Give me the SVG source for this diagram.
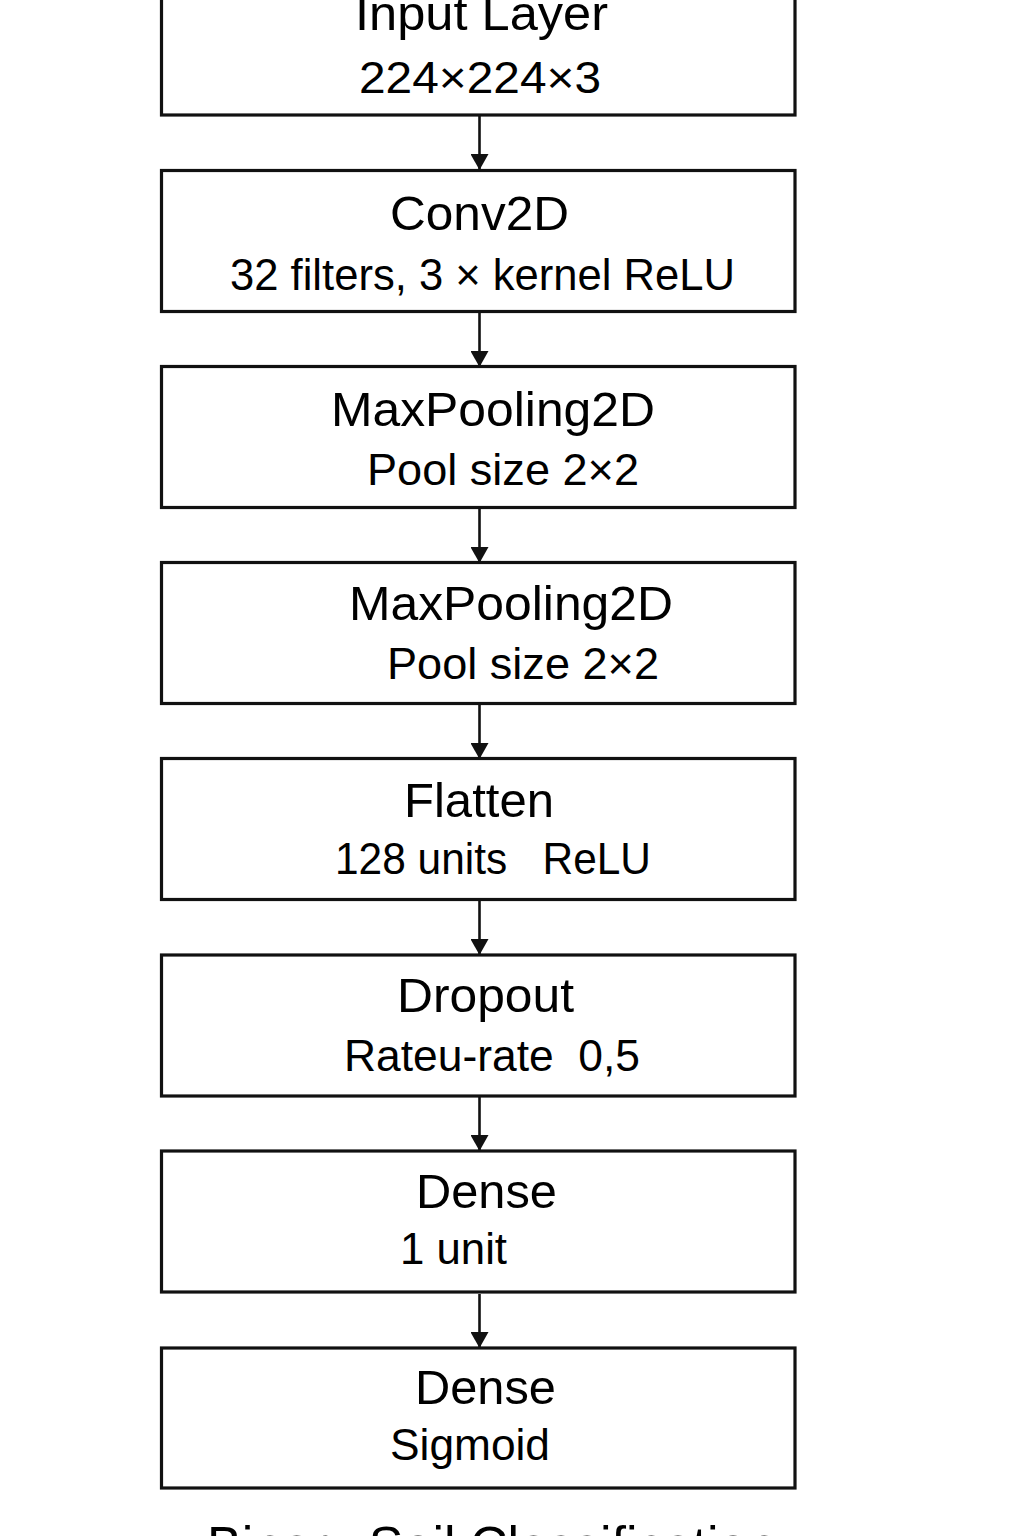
<svg xmlns="http://www.w3.org/2000/svg" width="1024" height="1536" viewBox="0 0 1024 1536">
  <style>
    .box { fill: #ffffff; stroke: #111111; stroke-width: 3.2; }
    .title { font-family: "Liberation Sans", Arial, sans-serif; font-size: 49px; fill: #000000; }
    .sub { font-family: "Liberation Sans", Arial, sans-serif; font-size: 44px; fill: #000000; white-space: pre; }
    .edge { stroke: #111111; stroke-width: 2.6; fill: none; marker-end: url(#arrow); }
    .caption { font-family: "Liberation Sans", Arial, sans-serif; font-size: 52px; fill: #000000; }
  </style>
  <defs>
    <marker id="arrow" markerWidth="16" markerHeight="18" refX="15" refY="9" orient="auto" markerUnits="userSpaceOnUse">
      <path d="M0,0 L16,9 L0,18 Z" fill="#111111"/>
    </marker>
  </defs>
  <rect x="0" y="0" width="1024" height="1536" fill="#ffffff"/>

  <g id="connectors">
    <line class="edge" x1="479.5" y1="116" x2="479.5" y2="169"/>
    <line class="edge" x1="479.5" y1="313" x2="479.5" y2="366"/>
    <line class="edge" x1="479.5" y1="509" x2="479.5" y2="562"/>
    <line class="edge" x1="479.5" y1="705" x2="479.5" y2="758"/>
    <line class="edge" x1="479.5" y1="901" x2="479.5" y2="954"/>
    <line class="edge" x1="479.5" y1="1097" x2="479.5" y2="1150"/>
    <line class="edge" x1="479.5" y1="1294" x2="479.5" y2="1347"/>
  </g>

  <g id="input-layer">
    <rect class="box" x="161.5" y="-26" width="633.5" height="141"/>
    <text class="title" x="355" y="30" textLength="253" lengthAdjust="spacingAndGlyphs">Input Layer</text>
    <text class="sub" x="359" y="93" textLength="242" lengthAdjust="spacingAndGlyphs">224×224×3</text>
  </g>

  <g id="conv2d">
    <rect class="box" x="161.5" y="170.5" width="633.5" height="141"/>
    <text class="title" x="390" y="230" textLength="179" lengthAdjust="spacingAndGlyphs">Conv2D</text>
    <text class="sub" x="230" y="290" textLength="505" lengthAdjust="spacingAndGlyphs">32 filters, 3 × kernel ReLU</text>
  </g>

  <g id="maxpool-1">
    <rect class="box" x="161.5" y="366.5" width="633.5" height="141"/>
    <text class="title" x="331" y="426" textLength="324" lengthAdjust="spacingAndGlyphs">MaxPooling2D</text>
    <text class="sub" x="367" y="485" textLength="272" lengthAdjust="spacingAndGlyphs">Pool size 2×2</text>
  </g>

  <g id="maxpool-2">
    <rect class="box" x="161.5" y="562.5" width="633.5" height="141"/>
    <text class="title" x="349" y="620" textLength="324" lengthAdjust="spacingAndGlyphs">MaxPooling2D</text>
    <text class="sub" x="387" y="679" textLength="272" lengthAdjust="spacingAndGlyphs">Pool size 2×2</text>
  </g>

  <g id="flatten">
    <rect class="box" x="161.5" y="758.5" width="633.5" height="141"/>
    <text class="title" x="404" y="817" textLength="150" lengthAdjust="spacingAndGlyphs">Flatten</text>
    <text class="sub" x="335" y="874" xml:space="preserve" textLength="316" lengthAdjust="spacingAndGlyphs">128 units   ReLU</text>
  </g>

  <g id="dropout">
    <rect class="box" x="161.5" y="955" width="633.5" height="141"/>
    <text class="title" x="397" y="1012" textLength="177" lengthAdjust="spacingAndGlyphs">Dropout</text>
    <text class="sub" x="344" y="1071" xml:space="preserve" textLength="296" lengthAdjust="spacingAndGlyphs">Rateu-rate  0,5</text>
  </g>

  <g id="dense-1">
    <rect class="box" x="161.5" y="1151" width="633.5" height="141"/>
    <text class="title" x="416" y="1208" textLength="141" lengthAdjust="spacingAndGlyphs">Dense</text>
    <text class="sub" x="400" y="1264" textLength="107" lengthAdjust="spacingAndGlyphs">1 unit</text>
  </g>

  <g id="dense-2">
    <rect class="box" x="161.5" y="1348" width="633.5" height="140"/>
    <text class="title" x="415" y="1404" textLength="141" lengthAdjust="spacingAndGlyphs">Dense</text>
    <text class="sub" x="390" y="1460" textLength="160" lengthAdjust="spacingAndGlyphs">Sigmoid</text>
  </g>

  <g id="caption">
    <text class="caption" x="207" y="1563">Binary Soil Classification</text>
  </g>
</svg>
